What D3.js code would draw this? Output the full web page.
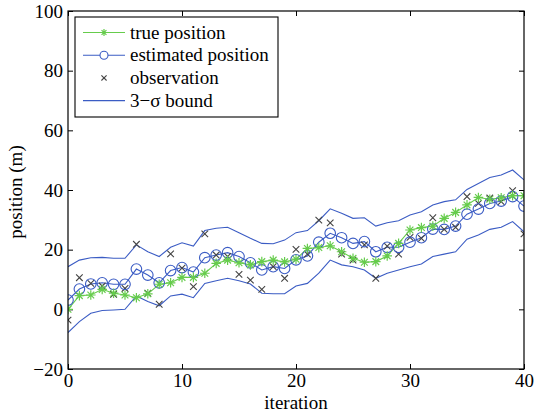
<!DOCTYPE html>
<html>
<head>
<meta charset="utf-8">
<script src="https://cdn.jsdelivr.net/npm/d3@7"></script>
<style>
  body { margin: 0; background: #fff; }
  svg text { font-family: "Liberation Serif", "Times New Roman", serif; }
</style>
</head>
<body>
<script>
// values
var iterations = d3.range(0, 41);
var truePos = [0, 4.6, 4.8, 6.7, 5.4, 4.8, 3.9, 5.2, 8.4, 8.9, 10.7, 10.7, 12.1, 15.4, 16.5, 15.6, 14.9, 16, 16.5, 15.9,
  16.8, 20.4, 20.7, 21.3, 19.3, 17.1, 15.8, 16, 17.9, 22.1, 26.6, 27.4, 27.9, 30.5, 32.5, 35, 37.5, 36.9, 37.4, 38.1, 38.1];
var estPos = [3.1, 6.8, 8.5, 8.9, 8.4, 8.4, 13.5, 11.5, 8.9, 13, 14, 12.5, 17.3, 18.2, 19, 17.7, 15.6, 13.2, 14.3, 13.7,
  16.6, 17.9, 22.5, 25.5, 24, 22.1, 22.7, 19.3, 20.8, 20.8, 22.5, 24, 26.9, 26.8, 27.9, 31.9, 33.6, 35.5, 36.3, 37.8, 34.6];
var observed = [-3.6, 10.6, 8.7, 7.8, 5, 7, 21.8, 5.4, 1.7, 18.6, 13.8, 7.6, 25.3, 18.2, 17.7, 11.7, 9.8, 6.7, 14.3, 10.4,
  20.1, 18.5, 29.9, 29, 18.5, 16.5, 21.6, 10.4, 21.2, 18.5, 24.1, 23.8, 30.7, 26.8, 27.5, 37.8, 35.5, 37.3, 36.1, 39.8, 25.3];
var upperBound = [14.3, 16.5, 17.3, 17.4, 17.1, 17.1, 21.6, 19.3, 17.7, 20.8, 22.3, 21.2, 26.4, 27.2, 27.5, 25.7, 23.8, 22.1, 22, 23.2,
  25.7, 26.4, 29.7, 33.7, 32.2, 30.5, 30.7, 27.9, 29, 29.7, 31.6, 32.7, 35, 36.1, 36.7, 40.2, 42.2, 44.2, 45, 46.7, 43.4];
var lowerBound = [-7.8, -4.1, -1.3, -0.4, -0.2, 0, 4.5, 2.6, 1.2, 4.5, 5.1, 3.9, 8.7, 9.6, 10.4, 9.6, 8.5, 5.4, 5.2, 5.2,
  7.8, 8.7, 12.1, 16.5, 14.9, 14.3, 13.2, 10.4, 12.1, 13.2, 14.3, 15.2, 17.7, 18.5, 19.3, 23.5, 24.9, 26.8, 27.5, 29.4, 26];
var xTicks = [0, 10, 20, 30, 40];
var yTicks = [-20, 0, 20, 40, 60, 80, 100];
var legendLabels = ["true position", "estimated position", "observation", "3\u2212\u03c3 bound"];

var W = 536, H = 414;
var margin = {top: 11, right: 12, bottom: 45, left: 68};
var width = W - margin.left - margin.right,
    height = H - margin.top - margin.bottom;

var green = "#66cc4c", blue = "#3b5cc4", gray = "#444";
var serif = "'Liberation Serif', 'Times New Roman', serif";
var fs = 19;

var svg = d3.select("body").append("svg")
    .attr("width", W)
    .attr("height", H)
    .attr("font-family", serif);
var g = svg.append("g")
    .attr("transform", "translate(" + margin.left + "," + margin.top + ")");

var x = d3.scaleLinear().domain([0, 40]).range([0, width]);
var y = d3.scaleLinear().domain([-20, 100]).range([height, 0]);

var fmt = function(d) { return d < 0 ? "\u2212" + Math.abs(d) : d; };

// axes, MATLAB style: ticks pointing in, box all round
g.append("g")
    .attr("transform", "translate(0," + height + ")")
    .call(d3.axisBottom(x).tickValues(xTicks).tickSizeInner(-5).tickSizeOuter(0).tickPadding(5).tickFormat(fmt))
    .call(function(a) { a.select(".domain").remove(); });
g.append("g")
    .call(d3.axisTop(x).tickValues(xTicks).tickSizeInner(-5).tickSizeOuter(0).tickFormat(""))
    .call(function(a) { a.select(".domain").remove(); });
g.append("g")
    .call(d3.axisLeft(y).tickValues(yTicks).tickSizeInner(-5).tickSizeOuter(0).tickPadding(5).tickFormat(fmt))
    .call(function(a) { a.select(".domain").remove(); });
g.append("g")
    .attr("transform", "translate(" + width + ",0)")
    .call(d3.axisRight(y).tickValues(yTicks).tickSizeInner(-5).tickSizeOuter(0).tickFormat(""))
    .call(function(a) { a.select(".domain").remove(); });

g.selectAll("g").attr("font-family", serif);
g.selectAll(".tick text")
    .attr("font-size", fs)
    .attr("fill", "#000");
g.selectAll(".tick line").attr("stroke", "#000");

// clip plot contents
svg.append("clipPath").attr("id", "clip")
  .append("rect").attr("width", width).attr("height", height);
var plot = g.append("g").attr("clip-path", "url(#clip)");

function series(vals) {
  return d3.line()
    .x(function(d, i) { return x(iterations[i]); })
    .y(function(d) { return y(d); })(vals);
}

plot.append("path").attr("d", series(upperBound))
    .attr("fill", "none").attr("stroke", blue).attr("stroke-width", 1.1);
plot.append("path").attr("d", series(lowerBound))
    .attr("fill", "none").attr("stroke", blue).attr("stroke-width", 1.1);
plot.append("path").attr("d", series(estPos))
    .attr("fill", "none").attr("stroke", blue).attr("stroke-width", 1.1);
plot.append("path").attr("d", series(truePos))
    .attr("fill", "none").attr("stroke", green).attr("stroke-width", 1.1);

// star marker (MATLAB '*')
function star(sel, r) {
  sel.append("path")
    .attr("d", "M" + (-r) + ",0L" + r + ",0M0," + (-r) + "L0," + r +
      "M" + (-r * 0.7) + "," + (-r * 0.7) + "L" + (r * 0.7) + "," + (r * 0.7) +
      "M" + (-r * 0.7) + "," + (r * 0.7) + "L" + (r * 0.7) + "," + (-r * 0.7))
    .attr("stroke", green).attr("stroke-width", 1.2).attr("fill", "none");
}
function cross(sel, r, col) {
  sel.append("path")
    .attr("d", "M" + (-r) + "," + (-r) + "L" + r + "," + r + "M" + (-r) + "," + r + "L" + r + "," + (-r))
    .attr("stroke", col).attr("stroke-width", 1.1).attr("fill", "none");
}

plot.selectAll(".obs").data(observed).enter().append("g")
    .attr("class", "obs")
    .attr("transform", function(d, i) { return "translate(" + x(iterations[i]) + "," + y(d) + ")"; })
    .each(function() { cross(d3.select(this), 3.3, gray); });

plot.selectAll(".est").data(estPos).enter().append("circle")
    .attr("class", "est")
    .attr("cx", function(d, i) { return x(iterations[i]); })
    .attr("cy", function(d) { return y(d); })
    .attr("r", 5.3)
    .attr("fill", "none").attr("stroke", blue).attr("stroke-width", 1.1);

plot.selectAll(".tru").data(truePos).enter().append("g")
    .attr("class", "tru")
    .attr("transform", function(d, i) { return "translate(" + x(iterations[i]) + "," + y(d) + ")"; })
    .each(function() { star(d3.select(this), 4.8); });

// box
g.append("rect").attr("width", width).attr("height", height)
    .attr("fill", "none").attr("stroke", "#000").attr("stroke-width", 1.2);

// axis labels
svg.append("text")
    .attr("x", margin.left + width / 2).attr("y", H - 5)
    .attr("text-anchor", "middle").attr("font-size", fs)
    .text("iteration");
svg.append("text")
    .attr("transform", "translate(22," + (margin.top + height / 2 + 2) + ") rotate(-90)")
    .attr("text-anchor", "middle").attr("font-size", fs)
    .text("position (m)");

// legend
var lg = svg.append("g").attr("transform", "translate(75,17)");
lg.append("rect").attr("width", 203).attr("height", 100)
    .attr("fill", "#fff").attr("stroke", "#000").attr("stroke-width", 1.1);
var item = lg.selectAll(".legend").data(legendLabels).enter().append("g")
    .attr("class", "legend")
    .attr("transform", function(d, i) { return "translate(0," + (15.5 + i * 22.7) + ")"; });
item.append("text")
    .attr("x", 55).attr("dy", "0.32em").attr("font-size", fs)
    .text(function(d) { return d; });
item.filter(function(d, i) { return i !== 2; }).append("line")
    .attr("x1", 8).attr("x2", 50)
    .attr("stroke", function(d, i) { return i === 0 ? green : blue; })
    .attr("stroke-width", 1.1);
star(item.filter(function(d, i) { return i === 0; }).append("g").attr("transform", "translate(29,0)"), 3.5);
item.filter(function(d, i) { return i === 1; }).append("circle")
    .attr("cx", 29).attr("r", 4).attr("fill", "#fff").attr("stroke", blue).attr("stroke-width", 1.1);
cross(item.filter(function(d, i) { return i === 2; }).append("g").attr("transform", "translate(29,0)"), 2.6, gray);
</script>
</body>
</html>
